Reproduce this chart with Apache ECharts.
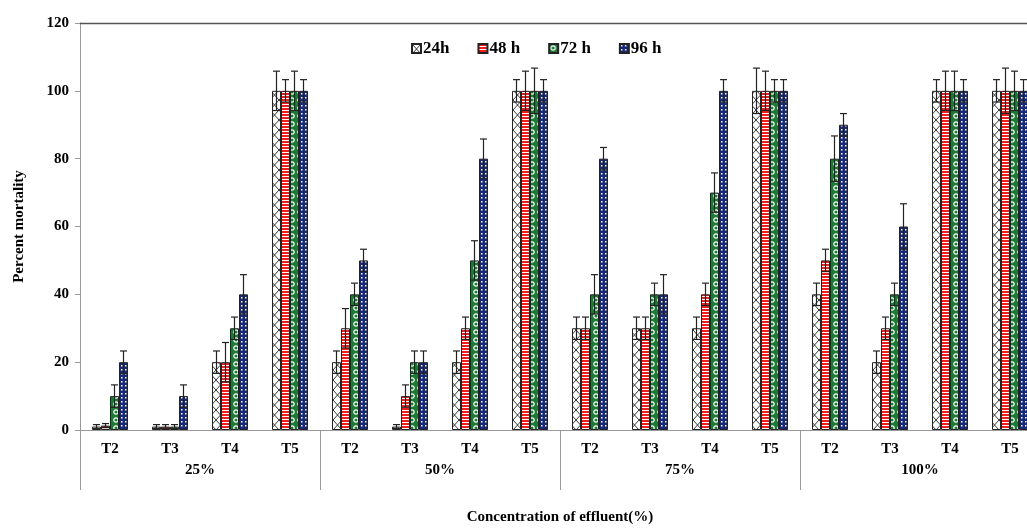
<!DOCTYPE html>
<html>
<head>
<meta charset="utf-8">
<script src="https://cdn.jsdelivr.net/npm/echarts@6/dist/echarts.min.js"></script>
<style>
  html, body { margin: 0; padding: 0; background: #fff; }
  #chart { width: 1027px; height: 528px; }
</style>
</head>
<body>
<div id="chart"></div>
<script>
// data
const groups = ['25%', '50%', '75%', '100%'];
const treatments = ['T2', 'T3', 'T4', 'T5'];
const seriesNames = ['24h', '48 h', '72 h', '96 h'];
const yTicks = [0, 20, 40, 60, 80, 100, 120];

const h24 = [1, 1, 20, 100, 20, 1, 20, 100, 30, 30, 30, 100, 40, 20, 100, 100];
const h48 = [1.3, 1, 20, 100, 30, 10, 30, 100, 30, 30, 40, 100, 50, 30, 100, 100];
const h72 = [10, 1, 30, 100, 40, 20, 50, 100, 40, 40, 70, 100, 80, 40, 100, 100];
const h96 = [20, 10, 40, 100, 50, 20, 80, 100, 80, 40, 100, 100, 90, 60, 100, 100];

const e24 = [0.6, 0.6, 3.3, 5.8, 3.3, 0.6, 3.3, 3.3, 3.3, 3.3, 3.3, 6.7, 3.3, 3.3, 3.3, 3.3];
const e48 = [0.6, 0.6, 5.8, 3.3, 5.8, 3.3, 3.3, 5.8, 3.3, 3.3, 3.3, 5.8, 3.3, 3.3, 5.8, 6.7];
const e72 = [3.3, 0.6, 3.3, 5.8, 3.3, 3.3, 5.8, 6.7, 5.8, 3.3, 5.8, 3.3, 6.7, 3.3, 5.8, 5.8];
const e96 = [3.3, 3.3, 5.8, 3.3, 3.3, 3.3, 5.8, 3.3, 3.3, 5.8, 3.3, 3.3, 3.3, 6.7, 3.3, 3.3];

const values = [h24, h48, h72, h96];
const errors = [e24, e48, e72, e96];
const categories = [];
groups.forEach(() => treatments.forEach(t => categories.push(t)));

const FONT = '"Liberation Serif", "Times New Roman", serif';
const BAR_W = 9;

// fill patterns
function makePattern(w, h, draw) {
  const c = document.createElement('canvas');
  c.width = w; c.height = h;
  draw(c.getContext('2d'), w, h);
  return { image: c, repeat: 'repeat' };
}
const patterns = [
  makePattern(9, 10, (g, w, h) => {
    g.fillStyle = '#fff'; g.fillRect(0, 0, w, h);
    g.strokeStyle = '#222'; g.lineWidth = 0.9;
    g.beginPath();
    g.moveTo(0, 0); g.lineTo(w, h);
    g.moveTo(w, 0); g.lineTo(0, h);
    g.stroke();
  }),
  makePattern(4, 3, (g, w, h) => {
    g.fillStyle = '#f21b1b'; g.fillRect(0, 0, w, h);
    g.fillStyle = '#fff'; g.fillRect(0, 2, w, 1);
  }),
  makePattern(8, 8, (g, w, h) => {
    g.fillStyle = '#1b7a35'; g.fillRect(0, 0, w, h);
    g.strokeStyle = '#fff'; g.lineWidth = 1.2;
    g.beginPath(); g.arc(4, 4, 2.2, 0, Math.PI * 2); g.stroke();
  }),
  makePattern(4, 4, (g, w, h) => {
    g.fillStyle = '#16297a'; g.fillRect(0, 0, w, h);
    g.fillStyle = '#fff'; g.fillRect(1, 1, 1.5, 1.5);
  })
];

const barSeries = seriesNames.map((name, i) => ({
  name: name,
  type: 'bar',
  xAxisIndex: 0,
  data: values[i],
  barWidth: BAR_W,
  barGap: '0%',
  itemStyle: { color: patterns[i], borderColor: '#222', borderWidth: 1 }
}));

const errSeries = seriesNames.map((name, i) => ({
  name: name + ' err',
  type: 'custom',
  xAxisIndex: 0,
  z: 5,
  data: values[i].map((v, k) => [k, v, errors[i][k]]),
  renderItem: (params, api) => {
    const k = api.value(0), v = api.value(1), e = api.value(2);
    const top = api.coord([k, v + e]);
    const bot = api.coord([k, v - e]);
    const x = top[0] + (i - 1.5) * BAR_W;
    const cap = 3.5;
    const st = { stroke: '#222', lineWidth: 1.2 };
    return {
      type: 'group',
      children: [
        { type: 'line', shape: { x1: x, y1: top[1], x2: x, y2: bot[1] }, style: st },
        { type: 'line', shape: { x1: x - cap, y1: top[1], x2: x + cap, y2: top[1] }, style: st },
        { type: 'line', shape: { x1: x - cap, y1: bot[1], x2: x + cap, y2: bot[1] }, style: st }
      ]
    };
  }
}));

const chart = echarts.init(document.getElementById('chart'), null, { renderer: 'canvas' });
chart.setOption({
  animation: false,
  backgroundColor: '#fff',
  textStyle: { fontFamily: FONT, fontWeight: 'bold', color: '#000' },
  legend: {
    data: seriesNames,
    left: 406,
    top: 35,
    itemWidth: 9,
    itemHeight: 9,
    itemGap: 28,
    icon: 'rect',
    textStyle: { fontFamily: FONT, fontWeight: 'bold', fontSize: 17, color: '#000', padding: [0, 0, 0, -3] }
  },
  grid: { left: 80, top: 23, width: 960, height: 407, containLabel: false, outerBoundsMode: 'none' },
  xAxis: [
    {
      type: 'category',
      data: categories,
      position: 'bottom',
      axisLine: { lineStyle: { color: '#999', width: 1 } },
      axisTick: { show: false },
      axisLabel: { interval: 0, margin: 12, fontFamily: FONT, fontWeight: 'bold', fontSize: 15, color: '#000' }
    },
    {
      type: 'category',
      data: groups,
      position: 'bottom',
      axisLine: { show: false },
      axisTick: { show: true, length: 60, lineStyle: { color: '#999', width: 1 } },
      axisLabel: { interval: 0, margin: 33, fontFamily: FONT, fontWeight: 'bold', fontSize: 15, color: '#000' },
      name: 'Concentration of effluent(%)',
      nameLocation: 'middle',
      nameGap: 80,
      nameTextStyle: { fontFamily: FONT, fontWeight: 'bold', fontSize: 15, color: '#000' }
    },
    {
      type: 'category',
      data: categories,
      position: 'top',
      axisLine: { show: true, lineStyle: { color: '#555', width: 1.3 } },
      axisTick: { show: false },
      axisLabel: { show: false }
    }
  ],
  yAxis: {
    type: 'value',
    min: yTicks[0],
    max: yTicks[yTicks.length - 1],
    interval: 20,
    axisLine: { show: true, lineStyle: { color: '#999', width: 1 } },
    axisTick: { show: true, length: 5, lineStyle: { color: '#999' } },
    splitLine: { show: false },
    axisLabel: { margin: 11, fontFamily: FONT, fontWeight: 'bold', fontSize: 15, color: '#000' },
    name: 'Percent mortality',
    nameLocation: 'middle',
    nameGap: 53,
    nameTextStyle: { fontFamily: FONT, fontWeight: 'bold', fontSize: 15, color: '#000' }
  },
  series: barSeries.concat(errSeries)
});
</script>
</body>
</html>
